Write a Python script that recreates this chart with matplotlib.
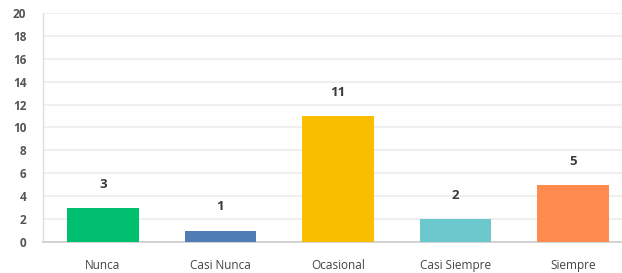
import matplotlib
matplotlib.use("Agg")
import matplotlib.pyplot as plt

categories = ["Nunca", "Casi Nunca", "Ocasional", "Casi Siempre", "Siempre"]
values = [3, 1, 11, 2, 5]
colors = ["#00BF6F", "#507CB6", "#F9BE00", "#6BC8CD", "#FF8B4F"]
yticks = [0, 2, 4, 6, 8, 10, 12, 14, 16, 18, 20]

plt.rcParams['font.family'] = ['Open Sans', 'DejaVu Sans']

fig = plt.figure(figsize=(6.22, 2.73), dpi=100)
ax = fig.add_axes([43/622, 1 - 242/273, 1 - 43/622, (242 - 13)/273])

x = list(range(len(categories)))
bars = ax.bar(x, values, width=0.61, color=colors, edgecolor="none", zorder=3)
for xi, v in zip(x, values):
    ax.annotate(str(v), (xi, v), xytext=(0, 17), textcoords="offset points",
                ha="center", va="center", fontsize=9.5, fontweight="bold",
                color="#3a3a3a")

ax.set_xlim(-0.51, 4.417)
ax.set_ylim(0, 20)
ax.set_yticks(yticks)
ax.set_yticklabels([str(t) for t in yticks], fontsize=8.5, fontweight="bold", color="#555555")
ax.set_xticks(x)
ax.set_xticklabels(categories, fontsize=8.5, color="#444444")
ax.tick_params(axis="y", length=0, pad=12)
ax.tick_params(axis="x", length=0, pad=12)
ax.grid(axis="y", color="#ececec", linewidth=1.2, zorder=0)
for s in ["top", "right"]:
    ax.spines[s].set_visible(False)
ax.spines["left"].set_color("#dddddd")
ax.spines["bottom"].set_color("#cccccc")
ax.spines["left"].set_linewidth(1.0)
ax.spines["bottom"].set_linewidth(1.2)

fig.savefig("out.png", dpi=100)
